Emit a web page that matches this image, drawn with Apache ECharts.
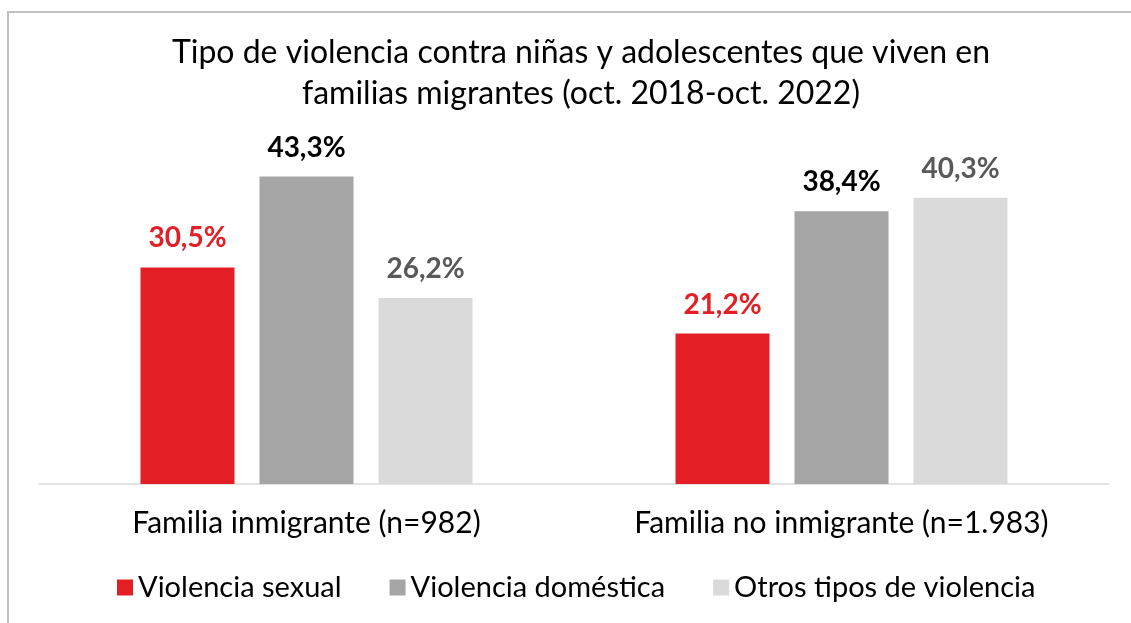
<!DOCTYPE html>
<html>
<head>
<meta charset="utf-8">
<script src="https://cdn.jsdelivr.net/npm/echarts@6/dist/echarts.min.js"></script>
<style>
html,body{margin:0;padding:0;background:#fff;}
#main{width:1131px;height:623px;}
</style>
</head>
<body>
<div id="main"></div>
<script>
const titleText = 'Tipo de violencia contra niñas y adolescentes que viven en\nfamilias migrantes (oct. 2018-oct. 2022)';
const categories = ['Familia inmigrante (n=982)', 'Familia no inmigrante (n=1.983)'];
const seriesNames = ['Violencia sexual', 'Violencia doméstica', 'Otros tipos de violencia'];
const sexual = [30.5, 21.2];
const domestica = [43.3, 38.4];
const otros = [26.2, 40.3];

const barColors = ['#E31E24', '#A5A5A5', '#DADADA'];
const labelColors = ['#E31E24', '#000000', '#595959'];
const values = [sexual, domestica, otros];

const chart = echarts.init(document.getElementById('main'));
const fmt = p => p.value.toFixed(1).replace('.', ',') + '%';

chart.setOption({
  animation: false,
  backgroundColor: '#fff',
  graphic: [{
    type: 'polyline',
    shape: { points: [[8, 640], [8, 12], [1150, 12]] },
    style: { stroke: '#BFBFBF', lineWidth: 2, fill: null }
  }],
  title: {
    text: titleText,
    left: 576,
    textAlign: 'center',
    top: 27,
    textStyle: { fontFamily: 'Lato', fontWeight: 'normal', fontSize: 32, color: '#000', lineHeight: 41 }
  },
  legend: {
    top: 568,
    left: 112,
    itemWidth: 16,
    itemHeight: 16,
    itemGap: 48,
    icon: 'rect',
    textStyle: { fontFamily: 'Lato', fontSize: 29, color: '#000' },
    data: seriesNames
  },
  grid: { left: 39, right: 22, top: 129, bottom: 139, containLabel: false },
  xAxis: {
    type: 'category',
    data: categories,
    axisLine: { lineStyle: { color: '#D9D9D9', width: 1.5 } },
    axisTick: { show: false },
    axisLabel: { interval: 0, hideOverlap: false, fontFamily: 'Lato', fontSize: 30, color: '#000', margin: 24 }
  },
  yAxis: {
    type: 'value', min: 0, max: 50,
    show: false,
    splitLine: { show: false }
  },
  series: seriesNames.map((name, i) => ({
    name,
    type: 'bar',
    data: values[i],
    barWidth: 94,
    barGap: '26.6%',
    itemStyle: { color: barColors[i] },
    label: {
      show: true, position: 'top', distance: 15,
      formatter: fmt,
      fontFamily: 'Lato', fontWeight: 'bold', fontSize: 28, color: labelColors[i]
    }
  }))
});
</script>
</body>
</html>
